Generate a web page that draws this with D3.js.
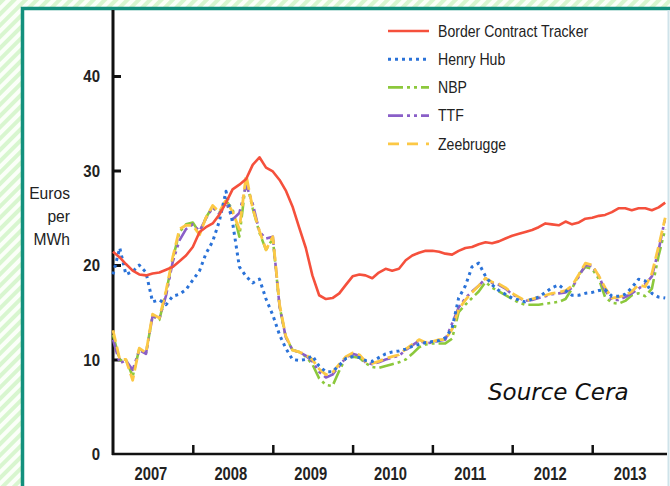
<!DOCTYPE html>
<html>
<head>
<meta charset="utf-8">
<script src="https://cdn.jsdelivr.net/npm/d3@7"></script>
<style>
  body { margin: 0; background: #fff; }
  .tick-label { font-family: "Liberation Sans", Arial, sans-serif; font-weight: bold; font-size: 17px; fill: #222; }
  .year-label { font-family: "Liberation Sans", Arial, sans-serif; font-weight: bold; font-size: 18px; fill: #222; }
  .legend-text { font-family: "Liberation Sans", Arial, sans-serif; font-size: 16px; fill: #222; }
  .unit { font-family: "Liberation Sans", Arial, sans-serif; font-size: 17px; fill: #222; }
  .source { font-family: "DejaVu Sans", Verdana, sans-serif; font-style: italic; font-size: 23px; fill: #111; }
</style>
</head>
<body>
<svg id="chart"></svg>
<script>
// monthly values, Jan 2007 .. Dec 2013 (euros per MWh)
const startMonth = new Date(2007, 0, 1);

const borderTracker = [
  21.4, 20.8, 20.1, 19.4, 19.0, 18.9, 19.1, 19.2, 19.5, 19.8, 20.4, 21.0,
  21.9, 23.5, 24.0, 24.4, 25.3, 26.6, 28.0, 28.5, 29.1, 30.6, 31.4, 30.3,
  29.9, 29.0, 27.9, 26.2, 24.0, 21.8, 18.9, 16.8, 16.4, 16.5, 17.0, 17.9,
  18.8, 19.0, 18.9, 18.6, 19.2, 19.6, 19.4, 19.6, 20.5, 21.0, 21.3, 21.5,
  21.5, 21.4, 21.2, 21.1, 21.5, 21.8, 21.9, 22.2, 22.4, 22.3, 22.5, 22.8,
  23.1, 23.3, 23.5, 23.7, 24.0, 24.4, 24.3, 24.2, 24.6, 24.3, 24.5, 24.9,
  25.0, 25.2, 25.3, 25.6, 26.0, 26.0, 25.8, 26.0, 26.0, 25.8, 26.1, 26.6
];

const henryHub = [
  19.0, 21.8, 19.0, 19.3, 20.0, 19.2, 16.1, 16.3, 15.8, 16.7, 16.9, 17.4,
  18.4, 19.4, 21.2, 22.5, 24.6, 27.8, 24.5, 19.8, 18.8, 18.1, 18.5, 16.4,
  14.7, 12.6, 11.2, 10.0, 9.9, 10.0, 10.4, 9.3, 8.7, 8.7, 9.4, 10.1,
  10.3, 10.2, 9.9, 9.8, 10.2, 10.6, 10.8, 10.9, 11.1, 11.4, 11.6, 11.8,
  11.9, 12.0, 12.3, 13.3, 16.5, 17.8, 19.8, 20.2, 18.8, 17.9, 17.3, 16.9,
  16.5, 16.3, 16.1, 16.4, 16.6, 17.1, 17.6, 17.9, 17.3, 16.8, 16.8, 17.0,
  17.1, 17.3, 17.4, 16.7, 16.7, 16.9, 17.6, 18.5, 18.3, 17.0, 16.6, 16.5
];

const nbp = [
  12.6, 9.9, 10.0, 8.2, 11.1, 10.7, 14.6, 14.2, 17.1, 20.6, 23.5, 24.3,
  24.5, 23.4, 25.0, 26.2, 25.5, 26.8, 25.9, 23.0, 29.0, 26.0, 23.4, 21.6,
  22.8, 15.6, 12.4, 11.0, 10.8, 10.3, 9.5, 8.0, 7.3, 7.2, 8.8, 10.2,
  10.3, 10.2, 9.6, 9.2, 9.1, 9.3, 9.5, 9.7, 10.0, 10.6, 11.3, 11.6,
  11.7, 11.7, 11.7, 12.2, 15.0, 15.8, 16.5, 17.2, 18.2, 17.6, 17.2, 16.8,
  16.4, 16.0, 15.8, 15.8, 15.8, 15.9, 16.0, 16.1, 16.4, 17.5, 19.0, 19.8,
  19.6, 18.5, 16.6, 16.0, 15.9, 16.2, 16.8, 17.0, 16.7, 17.5, 21.0, 23.8
];

const ttf = [
  12.1, 9.6, 9.9, 8.9, 11.0, 10.6, 14.6, 14.3, 16.8, 20.3, 22.6, 23.8,
  24.3, 23.6, 24.9, 26.1, 25.4, 26.7, 24.8, 25.5, 28.5, 26.5, 23.5, 22.8,
  23.0, 15.6, 12.4, 11.0, 10.8, 10.4, 9.8, 8.7, 8.1, 8.4, 9.3, 10.2,
  10.6, 10.4, 9.7, 9.5, 9.7, 10.0, 10.2, 10.4, 11.0, 11.5, 12.0, 11.7,
  11.8, 12.0, 12.1, 13.8, 15.5, 16.5, 17.2, 17.8, 18.6, 18.1, 17.9, 17.5,
  16.9, 16.5, 16.2, 16.3, 16.5, 16.7, 16.9, 17.0, 17.1, 17.6, 18.8, 20.0,
  19.9, 18.8, 17.3, 16.3, 16.3, 16.6, 17.0, 17.5, 18.0, 18.8, 21.6, 25.0
];

const zeebrugge = [
  13.1, 10.0, 10.0, 7.8, 11.2, 10.7, 14.8, 14.4, 17.3, 20.8, 23.8, 24.2,
  24.2, 23.2, 25.0, 26.3, 25.6, 26.9, 25.6, 23.8, 29.5, 26.0, 23.6, 21.6,
  23.0, 15.8, 12.5, 11.0, 10.8, 10.5, 10.0, 9.0, 8.4, 8.6, 9.5, 10.3,
  10.7, 10.5, 9.8, 9.6, 9.8, 10.1, 10.3, 10.5, 11.1, 11.6, 12.1, 11.8,
  11.9, 12.1, 12.1, 13.2, 15.3, 16.3, 17.1, 17.8, 18.6, 18.2, 18.0, 17.6,
  17.0, 16.6, 16.2, 16.4, 16.6, 16.8, 17.0, 17.1, 17.3, 17.8, 19.0, 20.2,
  20.0, 18.8, 17.6, 16.5, 16.6, 16.8, 17.2, 17.9, 17.7, 19.1, 22.0, 25.0
];

const yTicks = [0, 10, 20, 30, 40];
const years = [2007, 2008, 2009, 2010, 2011, 2012, 2013];

const series = [
  { name: "NBP", values: nbp, color: "#8cc83c", dash: "15,4,3,4,3,4", width: 2.6 },
  { name: "TTF", values: ttf, color: "#8a5fc8", dash: "15,4,3,4,3,4", width: 2.6 },
  { name: "Zeebrugge", values: zeebrugge, color: "#fcc845", dash: "12,5", width: 2.8 },
  { name: "Henry Hub", values: henryHub, color: "#2a72d8", dash: "3,4", width: 3 },
  { name: "Border Contract Tracker", values: borderTracker, color: "#f5503c", dash: null, width: 2.6 }
];
const legendOrder = ["Border Contract Tracker", "Henry Hub", "NBP", "TTF", "Zeebrugge"];

const W = 670, H = 486;
const svg = d3.select("#chart").attr("width", W).attr("height", H);

// hatched background + frame
const defs = svg.append("defs");
const pat = defs.append("pattern")
  .attr("id", "hatch")
  .attr("patternUnits", "userSpaceOnUse")
  .attr("width", 8).attr("height", 8)
  .attr("patternTransform", "rotate(45)");
pat.append("rect").attr("width", 8).attr("height", 8).attr("fill", "#fbfff9");
pat.append("rect").attr("width", 4).attr("height", 8).attr("fill", "#d8f6cf");

svg.append("rect").attr("width", W).attr("height", H).attr("fill", "url(#hatch)");
svg.append("rect")
  .attr("x", 22.5).attr("y", 8.5)
  .attr("width", W + 10).attr("height", H + 10)
  .attr("fill", "#fff")
  .attr("stroke", "#13907d")
  .attr("stroke-width", 3.5);
svg.append("line")
  .attr("x1", 668.5).attr("x2", 668.5).attr("y1", 10).attr("y2", H)
  .attr("stroke", "#cfe3ea").attr("stroke-width", 2);

const x = d3.scaleTime()
  .domain([new Date(2007, 0, 1), new Date(2014, 0, 1)])
  .range([113, 672]);
const y = d3.scaleLinear().domain([0, 40]).range([454, 76]);

const monthDate = i => d3.timeMonth.offset(startMonth, i);

// axes
const yAxis = d3.axisRight(y).tickValues(yTicks).tickSize(8).tickFormat("");
const gy = svg.append("g").attr("transform", "translate(113,0)").call(yAxis);
gy.select(".domain").remove();
gy.selectAll(".tick line").attr("stroke", "#111").attr("stroke-width", 3);
gy.selectAll(".tick").filter(d => d === 0).remove();

const boundaries = years.slice(1).map(yr => new Date(yr, 0, 1));
const xAxis = d3.axisTop(x).tickValues(boundaries).tickSize(9).tickFormat("");
const gx = svg.append("g").attr("transform", "translate(0,454)").call(xAxis);
gx.select(".domain").remove();
gx.selectAll(".tick line").attr("stroke", "#111").attr("stroke-width", 2.5);

svg.append("line")
  .attr("x1", 113).attr("x2", 113).attr("y1", 10).attr("y2", 455)
  .attr("stroke", "#111").attr("stroke-width", 3);
svg.append("line")
  .attr("x1", 112).attr("x2", 667).attr("y1", 454).attr("y2", 454)
  .attr("stroke", "#111").attr("stroke-width", 2.5);

// narrow-looking labels: squeeze horizontally
svg.selectAll(".tick-label")
  .data(yTicks)
  .enter().append("text")
  .attr("class", "tick-label")
  .attr("transform", d => `translate(100,${y(d)}) scale(0.88,1)`)
  .attr("dy", "0.36em")
  .attr("text-anchor", "end")
  .text(d => d);

svg.selectAll(".year-label")
  .data(years)
  .enter().append("text")
  .attr("class", "year-label")
  .attr("transform", d => {
    const cx = (x(new Date(d, 0, 1)) + x(new Date(d + 1, 0, 1))) / 2 - 2;
    return `translate(${cx},480) scale(0.82,1)`;
  })
  .attr("text-anchor", "middle")
  .text(d => d);

const unit = svg.append("text").attr("class", "unit").attr("text-anchor", "end")
  .attr("transform", "translate(70,0) scale(0.92,1)");
["Euros", "per", "MWh"].forEach((t, i) => {
  unit.append("tspan").attr("x", 0).attr("y", 199 + i * 23).text(t);
});

// lines
const line = d3.line()
  .x((d, i) => x(monthDate(i)))
  .y(d => y(d));

svg.selectAll(".series")
  .data(series)
  .enter().append("path")
  .attr("class", "series")
  .attr("fill", "none")
  .attr("stroke", d => d.color)
  .attr("stroke-width", d => d.width)
  .attr("stroke-dasharray", d => d.dash)
  .attr("stroke-linejoin", "round")
  .attr("d", d => line(d.values));

// legend
const legend = svg.selectAll(".legend")
  .data(legendOrder.map(n => series.find(s => s.name === n)))
  .enter().append("g")
  .attr("class", "legend")
  .attr("transform", (d, i) => `translate(388, ${31 + i * 28.2})`);
legend.append("line")
  .attr("x1", 0).attr("x2", 41)
  .attr("stroke", d => d.color)
  .attr("stroke-width", d => d.width)
  .attr("stroke-dasharray", d => d.name === "Zeebrugge" ? "11,8" : d.dash);
legend.append("text")
  .attr("class", "legend-text")
  .attr("transform", "translate(50,0) scale(0.88,1)")
  .attr("dy", "0.36em")
  .text(d => d.name);

svg.append("text")
  .attr("class", "source")
  .attr("x", 488)
  .attr("y", 400)
  .text("Source Cera");
</script>
</body>
</html>
